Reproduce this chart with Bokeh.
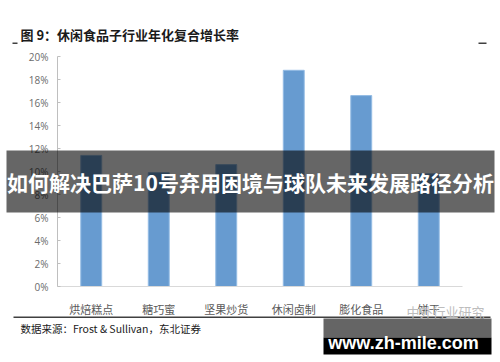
from bokeh.plotting import figure
from bokeh.models import (Range1d, FixedTicker, NumeralTickFormatter,
                          BoxAnnotation, Label)
from bokeh.embed import file_html
from bokeh.resources import INLINE

# ---- data ----
categories = ["烘焙糕点", "糖巧蜜", "坚果炒货", "休闲卤制", "膨化食品", "饼干"]
cagr = [0.114, 0.099, 0.106, 0.188, 0.166, 0.098]
y_ticks = [0.0, 0.02, 0.04, 0.06, 0.08, 0.10, 0.12, 0.14, 0.16, 0.18, 0.20]
title_text = "图 9：休闲食品子行业年化复合增长率"
source_text = "数据来源：Frost & Sullivan，东北证券"
banner_text = "如何解决巴萨10号弃用困境与球队未来发展路径分析"
wechat_text = "中外行业研究"
site_text = "www.zh-mile.com"

# ---- layout (canvas pixels) ----
W, H = 500, 362
PL, PR, PT, PB = 57, 462, 56, 286          # plot-area edges on the canvas
n = len(categories)
x_per_px = n / (PR - PL)
y_max = y_ticks[-1]
y_per_px = y_max / (PB - PT)

x_pos = [i + 0.5 for i in range(n)]

p = figure(width=W, height=H,
           x_range=Range1d(-PL * x_per_px, n + (W - PR) * x_per_px),
           y_range=Range1d(-(H - PB) * y_per_px, y_max + PT * y_per_px),
           output_backend="svg", toolbar_location=None, min_border=0)
p.outline_line_color = None
p.background_fill_color = "white"
p.border_fill_color = "white"
p.xgrid.visible = False
p.ygrid.visible = False

p.vbar(x=x_pos, top=cagr, width=0.31, fill_color="#679bd0",
       line_color="#93bbe4", line_width=1)

# y axis
ya = p.yaxis[0]
ya.fixed_location = 0
ya.bounds = (0, y_max)
ya.ticker = FixedTicker(ticks=y_ticks)
ya.formatter = NumeralTickFormatter(format="0%")
ya.axis_line_color = "#bfbfbf"
ya.major_tick_line_color = "#bfbfbf"
ya.major_tick_in = 3
ya.major_tick_out = 0
ya.minor_tick_line_color = None
ya.major_label_standoff = 9
ya.major_label_text_font = "Open Sans"
ya.major_label_text_font_size = "10px"
ya.major_label_text_color = "#6b6b6b"

# x axis
xa = p.xaxis[0]
xa.fixed_location = 0
xa.bounds = (0, n)
xa.ticker = FixedTicker(ticks=x_pos)
xa.major_label_overrides = {x: c for x, c in zip(x_pos, categories)}
xa.axis_line_color = "#d9d9d9"
xa.major_tick_line_color = None
xa.minor_tick_line_color = None
xa.major_label_standoff = 8
xa.major_label_text_font = "Noto Sans CJK SC"
xa.major_label_text_font_size = "11px"
xa.major_label_text_color = "#595959"


def sy(Y):
    return H - Y


def box(l, r, t, b, color, alpha=1.0):
    p.add_layout(BoxAnnotation(left=l, right=r, top=sy(t), bottom=sy(b),
                               left_units="screen", right_units="screen",
                               top_units="screen", bottom_units="screen",
                               fill_color=color, fill_alpha=alpha, line_color=None))


def label(x, y, text, font, size, color, align="left", bold=False, baseline="middle"):
    p.add_layout(Label(x=x, y=sy(y), x_units="screen", y_units="screen",
                       text=text, text_font=font, text_font_size=size,
                       text_font_style="bold" if bold else "normal",
                       text_color=color, text_align=align, text_baseline=baseline))


# title and border marks
label(20, 34, title_text, "Noto Sans CJK SC", "13px", "#1a1a1a", bold=True)
box(12, 17, 42, 43.5, "#404040")
box(478, 486, 42, 43.5, "#404040")

# bottom rule
box(13, 490, 316, 317.5, "#404040")

# wechat watermark
label(445, 311, wechat_text, "Noto Sans CJK SC", "13px", "#bdbdbd", align="center")

# source
label(20, 327.5, source_text, "Noto Sans CJK SC", "10.5px", "#1a1a1a")

# overlay banner
box(6, 494, 150, 212, "black", 0.6)
label(250, 181, banner_text, "Noto Sans CJK SC", "21px", "white", align="center", bold=True)

# site watermark
box(323, 491, 318, 337, "#656565")
box(323, 491, 337, 354, "black")
label(403, 342.5, site_text, "Liberation Sans", "18px", "white", align="center",
      bold=True, baseline="alphabetic")

open("out.html", "w").write(file_html(p, INLINE))
